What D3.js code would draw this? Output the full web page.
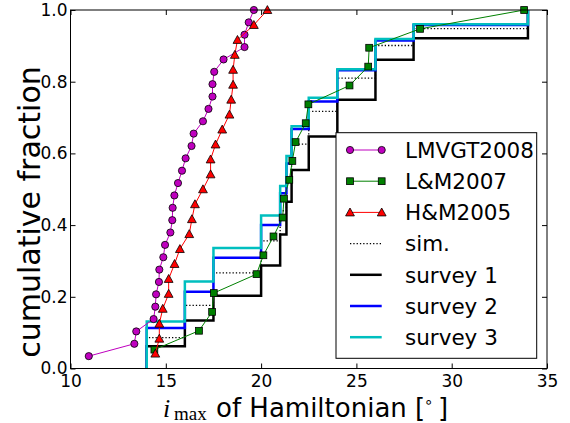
<!DOCTYPE html>
<html>
<head>
<meta charset="utf-8">
<script src="https://cdn.jsdelivr.net/npm/d3@7"></script>
<style>
  html, body { margin: 0; padding: 0; background: #fff; }
  svg { display: block; }
  text { font-family: "DejaVu Sans", sans-serif; fill: #000; }
</style>
</head>
<body>
<svg id="chart" width="570" height="423"></svg>
<script>
// ---------------- data ----------------
const xTicks = [10, 15, 20, 25, 30, 35];
const yTicks = [0, 0.2, 0.4, 0.6, 0.8, 1.0];

// LMVGT2008 (29 values, cumulative k/29)
const lmvgtX = [10.96, 13.35, 13.45, 14.36, 14.45, 14.49, 14.64, 14.66, 14.87, 14.96,
                15.24, 15.34, 15.36, 15.45, 15.64, 15.85, 16.04, 16.35, 16.46, 16.95,
                17.24, 17.45, 17.45, 17.54, 18.03, 19.13, 19.13, 19.35, 19.62];
// L&M2007 (19 values, cumulative k/19)
const lmX = [14.40, 16.74, 17.43, 17.52, 19.76, 20.12, 20.65, 21.13, 21.20, 21.48,
             21.64, 21.81, 22.34, 22.48, 24.64, 25.62, 25.67, 28.34, 33.80];
// H&M2005 (24 values, cumulative k/24)
const hmX = [14.45, 14.66, 14.66, 14.84, 15.15, 15.15, 15.46, 15.74, 16.23, 16.37,
             16.53, 16.95, 17.35, 17.35, 17.61, 17.96, 18.34, 18.43, 18.53, 18.53,
             18.62, 18.76, 19.62, 20.33];

// step distributions
const stepX   = [14, 16, 17.5, 20, 21, 21.33, 21.6, 22.5, 24, 26, 28, 34];
const simY    = [0.086, 0.176, 0.267, 0.356, 0.440, 0.520, 0.626, 0.717, 0.810, 0.901, 0.948, 1.0];
const survey1 = [0.062, 0.134, 0.203, 0.287, 0.374, 0.465, 0.554, 0.647, 0.750, 0.861, 0.921, 1.0];
const survey2 = [0.113, 0.214, 0.309, 0.400, 0.489, 0.572, 0.668, 0.745, 0.832, 0.915, 0.958, 1.0];
const survey3 = [0.131, 0.243, 0.336, 0.427, 0.509, 0.593, 0.676, 0.755, 0.835, 0.919, 0.960, 1.0];

const legendLabels = ["LMVGT2008", "L&M2007", "H&M2005", "sim.", "survey 1", "survey 2", "survey 3"];

// ---------------- layout ----------------
const svg = d3.select("#chart");
const L = 70.5, R = 547, T = 10, B = 368.5;
const x = d3.scaleLinear().domain([10, 35]).range([L, R]);
const y = d3.scaleLinear().domain([0, 1]).range([B, T]);

const COL = { m: "#bf00bf", g: "#008000", r: "#ff0000", k: "#000000", b: "#0000ff", c: "#00bfbf" };

svg.append("defs").append("clipPath").attr("id", "clip")
  .append("rect").attr("x", L).attr("y", T - 6).attr("width", R - L).attr("height", B - T + 6);

const plot = svg.append("g").attr("clip-path", "url(#clip)");

// step lines
const stepLine = d3.line().x(d => x(d[0])).y(d => y(d[1])).curve(d3.curveStepAfter);
function stepPts(ys) {
  return [[stepX[0], 0]].concat(stepX.map((v, i) => [v, ys[i]]));
}
plot.append("path").attr("d", stepLine(stepPts(simY)))
  .attr("fill", "none").attr("stroke", COL.k).attr("stroke-width", 1.3)
  .attr("stroke-dasharray", "1.3,2");
[[survey1, COL.k], [survey2, COL.b], [survey3, COL.c]].forEach(([ys, c]) => {
  plot.append("path").attr("d", stepLine(stepPts(ys)))
    .attr("fill", "none").attr("stroke", c).attr("stroke-width", 2.5)
    .attr("stroke-linejoin", "miter").attr("stroke-linecap", "butt");
});

// marker series
const line = d3.line().x(d => x(d[0])).y(d => y(d[1]));
function cum(xs) { return xs.map((v, i) => [v, (i + 1) / xs.length]); }

function drawMarker(g, type, cx, cy, fill) {
  if (type === "circle") {
    g.append("circle").attr("cx", cx).attr("cy", cy).attr("r", 3.6)
      .attr("fill", fill).attr("stroke", "#000").attr("stroke-width", 0.8);
  } else if (type === "square") {
    g.append("rect").attr("x", cx - 3.4).attr("y", cy - 3.4).attr("width", 6.8).attr("height", 6.8)
      .attr("fill", fill).attr("stroke", "#000").attr("stroke-width", 0.8);
  } else {
    const s = 4.4;
    g.append("path").attr("d", `M${cx},${cy - s}L${cx + s},${cy + s * 0.8}L${cx - s},${cy + s * 0.8}Z`)
      .attr("fill", fill).attr("stroke", "#000").attr("stroke-width", 0.8);
  }
}

const seriesDefs = [
  { xs: lmvgtX, color: COL.m, marker: "circle" },
  { xs: lmX, color: COL.g, marker: "square" },
  { xs: hmX, color: COL.r, marker: "triangle" }
];
seriesDefs.forEach(s => {
  const pts = cum(s.xs);
  const g = svg.append("g");
  g.append("path").attr("d", line(pts)).attr("fill", "none")
    .attr("stroke", s.color).attr("stroke-width", 1);
  pts.forEach(p => drawMarker(g, s.marker, x(p[0]), y(p[1]), s.color));
});

// ---------------- axes ----------------
const fmtY = d3.format(".1f");
const axB = svg.append("g").attr("transform", `translate(0,${B})`)
  .call(d3.axisBottom(x).tickValues(xTicks).tickSizeInner(-5).tickSizeOuter(0).tickPadding(6));
const axT = svg.append("g").attr("transform", `translate(0,${T})`)
  .call(d3.axisTop(x).tickValues(xTicks).tickSizeInner(-5).tickSizeOuter(0).tickFormat(""));
const axL = svg.append("g").attr("transform", `translate(${L},0)`)
  .call(d3.axisLeft(y).tickValues(yTicks).tickSizeInner(-5).tickSizeOuter(0).tickPadding(3).tickFormat(fmtY));
const axR = svg.append("g").attr("transform", `translate(${R},0)`)
  .call(d3.axisRight(y).tickValues(yTicks).tickSizeInner(-5).tickSizeOuter(0).tickFormat(""));
[axB, axT, axL, axR].forEach(a => {
  a.select(".domain").remove();
  a.selectAll("line").attr("stroke", "#000").attr("stroke-width", 1);
  a.selectAll("text").attr("font-family", "DejaVu Sans").attr("font-size", 17).attr("fill", "#000");
});
svg.append("rect").attr("x", L).attr("y", T).attr("width", R - L).attr("height", B - T)
  .attr("fill", "none").attr("stroke", "#000").attr("stroke-width", 1);

// ---------------- legend ----------------
const lg = svg.append("g");
lg.append("rect").attr("x", 336).attr("y", 132.7).attr("width", 200.7).attr("height", 225.6)
  .attr("fill", "#fff").attr("stroke", "#000").attr("stroke-width", 1);
const legStyles = [
  { color: COL.m, marker: "circle", w: 1 },
  { color: COL.g, marker: "square", w: 1 },
  { color: COL.r, marker: "triangle", w: 1 },
  { color: COL.k, dash: "1.3,2", w: 1.3 },
  { color: COL.k, w: 2.5 },
  { color: COL.b, w: 2.5 },
  { color: COL.c, w: 2.5 }
];
legendLabels.forEach((lab, i) => {
  const cy = 150 + i * 31.2;
  const st = legStyles[i];
  const ln = lg.append("line").attr("x1", 350).attr("x2", 381.7).attr("y1", cy).attr("y2", cy)
    .attr("stroke", st.color).attr("stroke-width", st.w);
  if (st.dash) ln.attr("stroke-dasharray", st.dash);
  if (st.marker) { drawMarker(lg, st.marker, 350, cy, st.color); drawMarker(lg, st.marker, 381.7, cy, st.color); }
  lg.append("text").attr("x", 405).attr("y", cy + 7.8).attr("font-size", 21.5).text(lab);
});

// ---------------- axis labels ----------------
const xl = svg.append("text").attr("y", 416.5).attr("font-size", 26);
xl.append("tspan").attr("x", 163).attr("font-family", "Liberation Serif").attr("font-style", "italic").text("i");
xl.append("tspan").attr("x", 174).attr("font-family", "Liberation Serif").attr("font-size", 19).attr("dy", 3.5).text("max");
xl.append("tspan").attr("x", 216).attr("dy", -3.5).text("of Hamiltonian [");
xl.append("tspan").attr("x", 424).attr("font-size", 15).attr("dy", -10).text("∘");
xl.append("tspan").attr("x", 438).attr("dy", 10).text("]");

svg.append("text").attr("transform", "translate(40,212) rotate(-90)")
  .attr("text-anchor", "middle").attr("font-size", 30).text("cumulative fraction");
</script>
</body>
</html>
